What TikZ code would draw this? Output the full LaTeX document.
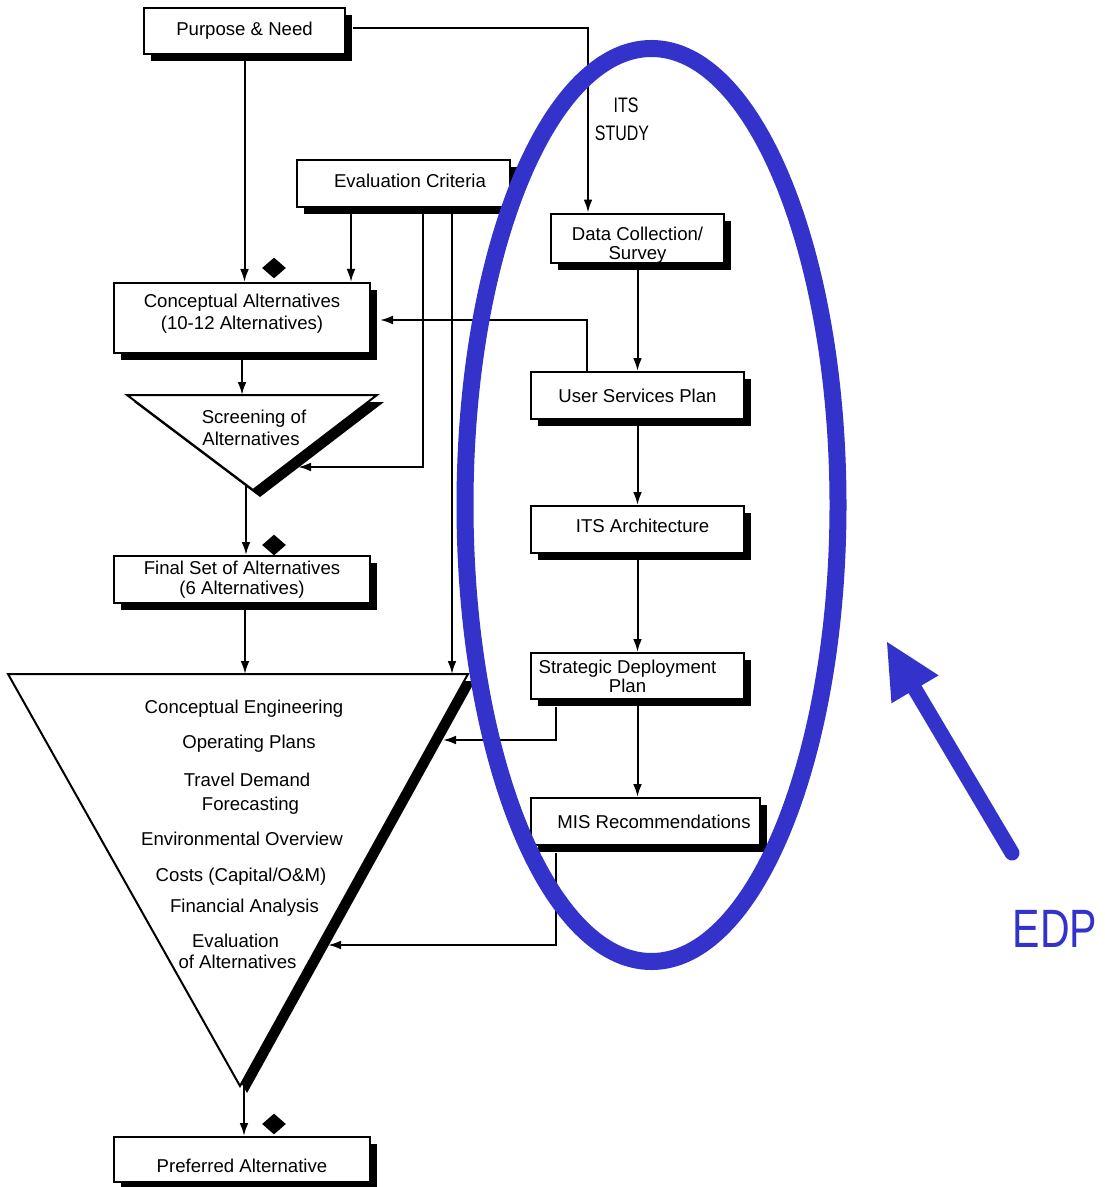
\documentclass[tikz,border=0pt]{standalone}
\usepackage{fontspec}
\setmainfont{Liberation Sans}
\newfontfamily\narrowfont[FakeStretch=0.76]{Liberation Sans}
\usetikzlibrary{calc,shapes.geometric,shadows,arrows.meta}
\definecolor{edpblue}{RGB}{51,51,204}
\newcommand\dgfont{\fontsize{9.3}{11}\selectfont}
% struts that nudge box text up (depth) or down (height)
\newcommand\lowstrut[1]{\rule[-#1]{0pt}{0pt}}
\newcommand\highstrut[1]{\rule{0pt}{#1}}

\tikzset{
  shade7/.style={drop shadow={shadow xshift=3.5pt, shadow yshift=-3.5pt, opacity=1, fill=black}},
  box/.style={draw, line width=1pt, fill=white, inner sep=0pt, align=center,
    font=\dgfont, shade7},
  tri/.style={draw, line width=1pt, fill=white, line join=miter, shade7},
  conn/.style={line width=1pt, -{Latex[length=6.5pt,width=4.4pt]}},
  txt/.style={font=\dgfont, inner sep=0pt, anchor=base},
  gem/.style={diamond, fill=black, inner sep=0pt, minimum width=12pt, minimum height=10.5pt},
  study/.style={font=\narrowfont\fontsize{10.5}{12}\selectfont, inner sep=0pt},
  ring/.style={draw=edpblue, line width=8.5pt},
  edparrow/.style={draw=edpblue, line width=7.5pt, line cap=round,
    -{Triangle[length=27.5pt,width=27.4pt,line width=0pt]}},
}

\begin{document}
\begin{tikzpicture}[x=0.5pt,y=-0.5pt]
  \fill[white] (0,0) rectangle (1104,1187);
  \useasboundingbox (0,0) rectangle (1104,1187);

  % ---- left column: boxes ----
  \node[box, minimum width=100.5pt, minimum height=23pt] (pn) at (244.5,31) {Purpose \& Need};
  \node[box, minimum width=106.5pt, minimum height=23.5pt] (ec) at (403.5,183.5) {\hspace*{6.5pt}Evaluation Criteria\lowstrut{3pt}};
  \node[box, minimum width=128pt, minimum height=35pt] (ca) at (242,318) {Conceptual Alternatives\\(10-12 Alternatives)\lowstrut{6pt}};
  \node[box, minimum width=128pt, minimum height=23.5pt] (fs) at (242,579.5) {Final Set of Alternatives\\[-1pt](6 Alternatives)};
  \node[box, minimum width=128pt, minimum height=22.5pt] (pa) at (242,1159.5) {\highstrut{13pt}Preferred Alternative};

  % ---- screening triangle ----
  \draw[tri] (127,395) -- (377,395) -- (253,490) -- cycle;
  \node[txt] (scrA) at (254,423) {Screening of};
  \node[txt] (scrB) at (251,445) {Alternatives};
  \coordinate (scrTop) at (241,395);
  \coordinate (scrIn) at (298,467);
  \coordinate (scrOut) at (246,485);

  % ---- large triangle ----
  \draw[tri] (8,674) -- (468,674) -- (240,1086) -- cycle;
  \coordinate (bigTop) at (240,674);
  \coordinate (bigIn1) at (443,740);
  \coordinate (bigIn2) at (328,945);
  \coordinate (bigOut) at (244,1086);
  \node[txt] (t1) at (244,713) {Conceptual Engineering};
  \node[txt] (t2) at (249,748) {Operating Plans};
  \node[txt] (t3) at (247,786) {Travel Demand};
  \node[txt] (t4) at (250.5,810) {Forecasting};
  \node[txt] (t5) at (242,845) {Environmental Overview};
  \node[txt] (t6) at (241,881) {Costs (Capital/O\&M)};
  \node[txt] (t7) at (244.5,912) {Financial Analysis};
  \node[txt] (t8) at (235.5,947) {Evaluation};
  \node[txt] (t9) at (237.5,968) {of Alternatives};

  % ---- right column: ITS study ----
  \node[box, minimum width=86.5pt, minimum height=23.5pt, font=\fontsize{9.3}{9.5}\selectfont] (dc) at (637.5,238.5) {\highstrut{13.5pt}Data Collection/\\Survey};
  \node[box, minimum width=106.5pt, minimum height=23.5pt] (usp) at (637.5,395.5) {User Services Plan};
  \node[box, minimum width=106.5pt, minimum height=23.5pt] (arch) at (637.5,529.5) {\hspace*{5pt}ITS Architecture\lowstrut{4pt}};
  \node[box, minimum width=106.5pt, minimum height=23pt] (sdp) at (637.5,676) {Strategic Deployment\hspace*{10pt}\\[-1.5pt]Plan\hspace*{10pt}};
  \node[box, minimum width=114.5pt, minimum height=23.5pt] (mis) at (645.5,821.5) {\hspace*{8.5pt}MIS Recommendations};
  \node[study] (its) at (626,105) {ITS};
  \node[study] (stu) at (622,133) {STUDY};

  % ---- decision markers ----
  \node[gem] (g1) at (274,268) {};
  \node[gem] (g2) at (274,545) {};
  \node[gem] (g3) at (274,1124) {};

  % ---- connectors ----
  \draw[conn] ($(pn.east)+(7,-3)$) -| ($(dc.north)+(-49.5,0)$);
  \draw[conn] (pn.south) -- (pn.south |- ca.north);
  \coordinate (ec1) at ($(ec.south)+(-52.5,0)$);
  \coordinate (ec2) at ($(ec.south)+(19.5,0)$);
  \coordinate (ec3) at ($(ec.south)+(48.5,0)$);
  \draw[conn] (ec1) -- (ec1 |- ca.north);
  \draw[conn] (ec2) |- (scrIn);
  \draw[conn] (ec3) -- (ec3 |- bigTop);
  \draw[conn] (ca.south) -- (ca.south |- scrTop);
  \coordinate (us1) at ($(usp.north)+(-50.5,0)$);
  \draw[conn] (us1) |- ($(ca.east)+(9,2)$);
  \draw[conn] (scrOut) -- (scrOut |- fs.north);
  \draw[conn] ($(fs.south)+(3,0)$) -- ($(fs.south |- bigTop)+(3,0)$);
  \draw[conn] (dc.south) -- (usp.north);
  \draw[conn] (usp.south) -- (arch.north);
  \draw[conn] (arch.south) -- (sdp.north);
  \draw[conn] (sdp.south) -- (sdp.south |- mis.north);
  \coordinate (sd1) at ($(sdp.south)+(-81.5,7)$);
  \coordinate (mi1) at ($(mis.south)+(-89.5,7)$);
  \draw[conn] (sd1) |- (bigIn1);
  \draw[conn] (mi1) |- (bigIn2);
  \draw[conn] (bigOut) -- (bigOut |- pa.north);

  % ---- EDP ring and pointer ----
  \draw[ring] (651.5,505) ellipse [x radius=186.5, y radius=456.5];
  \coordinate (edpTail) at (1012,853);
  \coordinate (edpTip) at (887,642);
  \draw[edparrow] (edpTail) -- (edpTip);
  \node[font=\narrowfont\fontsize{27}{30}\selectfont, text=edpblue, inner sep=0pt] (edp) at (1055,929) {EDP};
\end{tikzpicture}
\end{document}
